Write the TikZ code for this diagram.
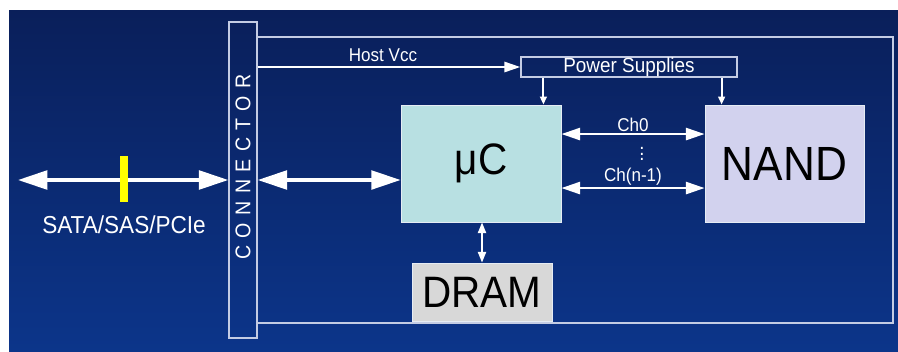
\documentclass[tikz,border=0pt]{standalone}
\usepackage{fontspec}
\setmainfont{Liberation Sans}[FakeStretch=0.92]
\newfontfamily\spaced{Liberation Sans}[FakeStretch=0.92,LetterSpace=35]
\usetikzlibrary{positioning,arrows.meta}
\definecolor{bgtop}{HTML}{0A1F5A}
\definecolor{bgbot}{HTML}{0C358A}
\definecolor{frame}{HTML}{C4CCE4}
\definecolor{edge}{HTML}{E6ECF4}
\definecolor{ucfill}{HTML}{B8E0E2}
\definecolor{nandfill}{HTML}{D2D2EE}
\definecolor{dramfill}{HTML}{D8D8D8}
\definecolor{sigbar}{HTML}{FFFF00}

\begin{document}
\begin{tikzpicture}[x=.75pt,y=-.75pt,
  block/.style={draw=edge,line width=.6pt,inner sep=0pt,font=\fontsize{33}{36}\selectfont},
  sigtext/.style={text=white,inner sep=1pt,font=\fontsize{13.9}{16}\selectfont},
  fatbus/.style={white,line width=2.6pt,{Triangle[length=22pt,width=14pt]}-{Triangle[length=22pt,width=14pt]}},
  chbus/.style={white,line width=1.9pt,{Triangle[length=14pt,width=9pt]}-{Triangle[length=14pt,width=9pt]}},
  vcc/.style={white,line width=1.9pt,-{Triangle[length=12pt,width=7.5pt]}},
  pwr/.style={white,line width=1.5pt,-{Triangle[length=6pt,width=5pt]}},
  mem/.style={white,line width=1.5pt,{Triangle[length=8pt,width=6pt]}-{Triangle[length=8pt,width=6pt]}}]
  \useasboundingbox (0,0) rectangle (898,351);
  \fill[white] (0,0) rectangle (898,351);
  \shade[top color=bgtop,bottom color=bgbot] (9,10) rectangle (898,351);
  \draw[frame,line width=1.1pt] (257,37) rectangle (893,323);
  \node[draw=frame,line width=1.1pt,minimum width=21pt,minimum height=237pt,inner sep=0pt] (conn) at (243,180) {};
  \node[rotate=90,text=white,inner sep=0pt,font=\spaced\fontsize{16}{18}\selectfont] (conntext) at (243,167) {CONNECTOR};
  \node[block,fill=ucfill,minimum width=120pt,minimum height=87.75pt] (uc) at (481,163.5) {μC};
  \node[block,fill=nandfill,minimum width=119.25pt,minimum height=87.75pt,font=\fontsize{36}{40}\selectfont] (nand) at (784.5,163.5) {NAND};
  \node[block,fill=dramfill,minimum width=105pt,minimum height=43.5pt] (dram) at (482,292) {DRAM};
  \node[draw=frame,line width=.8pt,minimum width=162pt,minimum height=15pt,inner sep=0pt,text height=10.5pt,text depth=3pt,text=white,font=\fontsize{15.4}{17}\selectfont] (ps) at (629,67) {Power Supplies};
  \coordinate (host) at (18,180);
  \draw[fatbus] (host) -- (conn.west |- host);
  \draw[fatbus] (conn.east |- host) -- (uc.west |- host);
  \fill[sigbar] (120,156) rectangle (128,202);
  \node[sigtext,font=\fontsize{18.4}{21}\selectfont] (bus) at (124,225) {SATA/SAS/PCIe};
  \draw[vcc] (conn.east |- ps.west) -- (ps.west);
  \node[sigtext] (vcctext) at (383,55) {Host Vcc};
  \coordinate (ucin) at ([xshift=-13.5pt]uc.north east);
  \coordinate (nandin) at ([xshift=12.75pt]nand.north west);
  \draw[pwr] (ucin |- ps.south) -- (ucin);
  \draw[pwr] (nandin |- ps.south) -- (nandin);
  \coordinate (ch0) at ([yshift=22.1pt]uc.east);
  \coordinate (chn) at ([yshift=-18.4pt]uc.east);
  \draw[chbus] (ch0) -- (nand.west |- ch0) node[midway,above,sigtext] (ch0text) {Ch0};
  \draw[chbus] (chn) -- (nand.west |- chn) node[midway,above,sigtext] (chntext) {Ch(n-1)};
  \node[text=white,inner sep=0pt,font=\fontsize{15}{15}\selectfont] (dots) at (642,150) {$\vdots$};
  \draw[mem] (uc.south -| dram.north) -- (dram.north);
\end{tikzpicture}
\end{document}
